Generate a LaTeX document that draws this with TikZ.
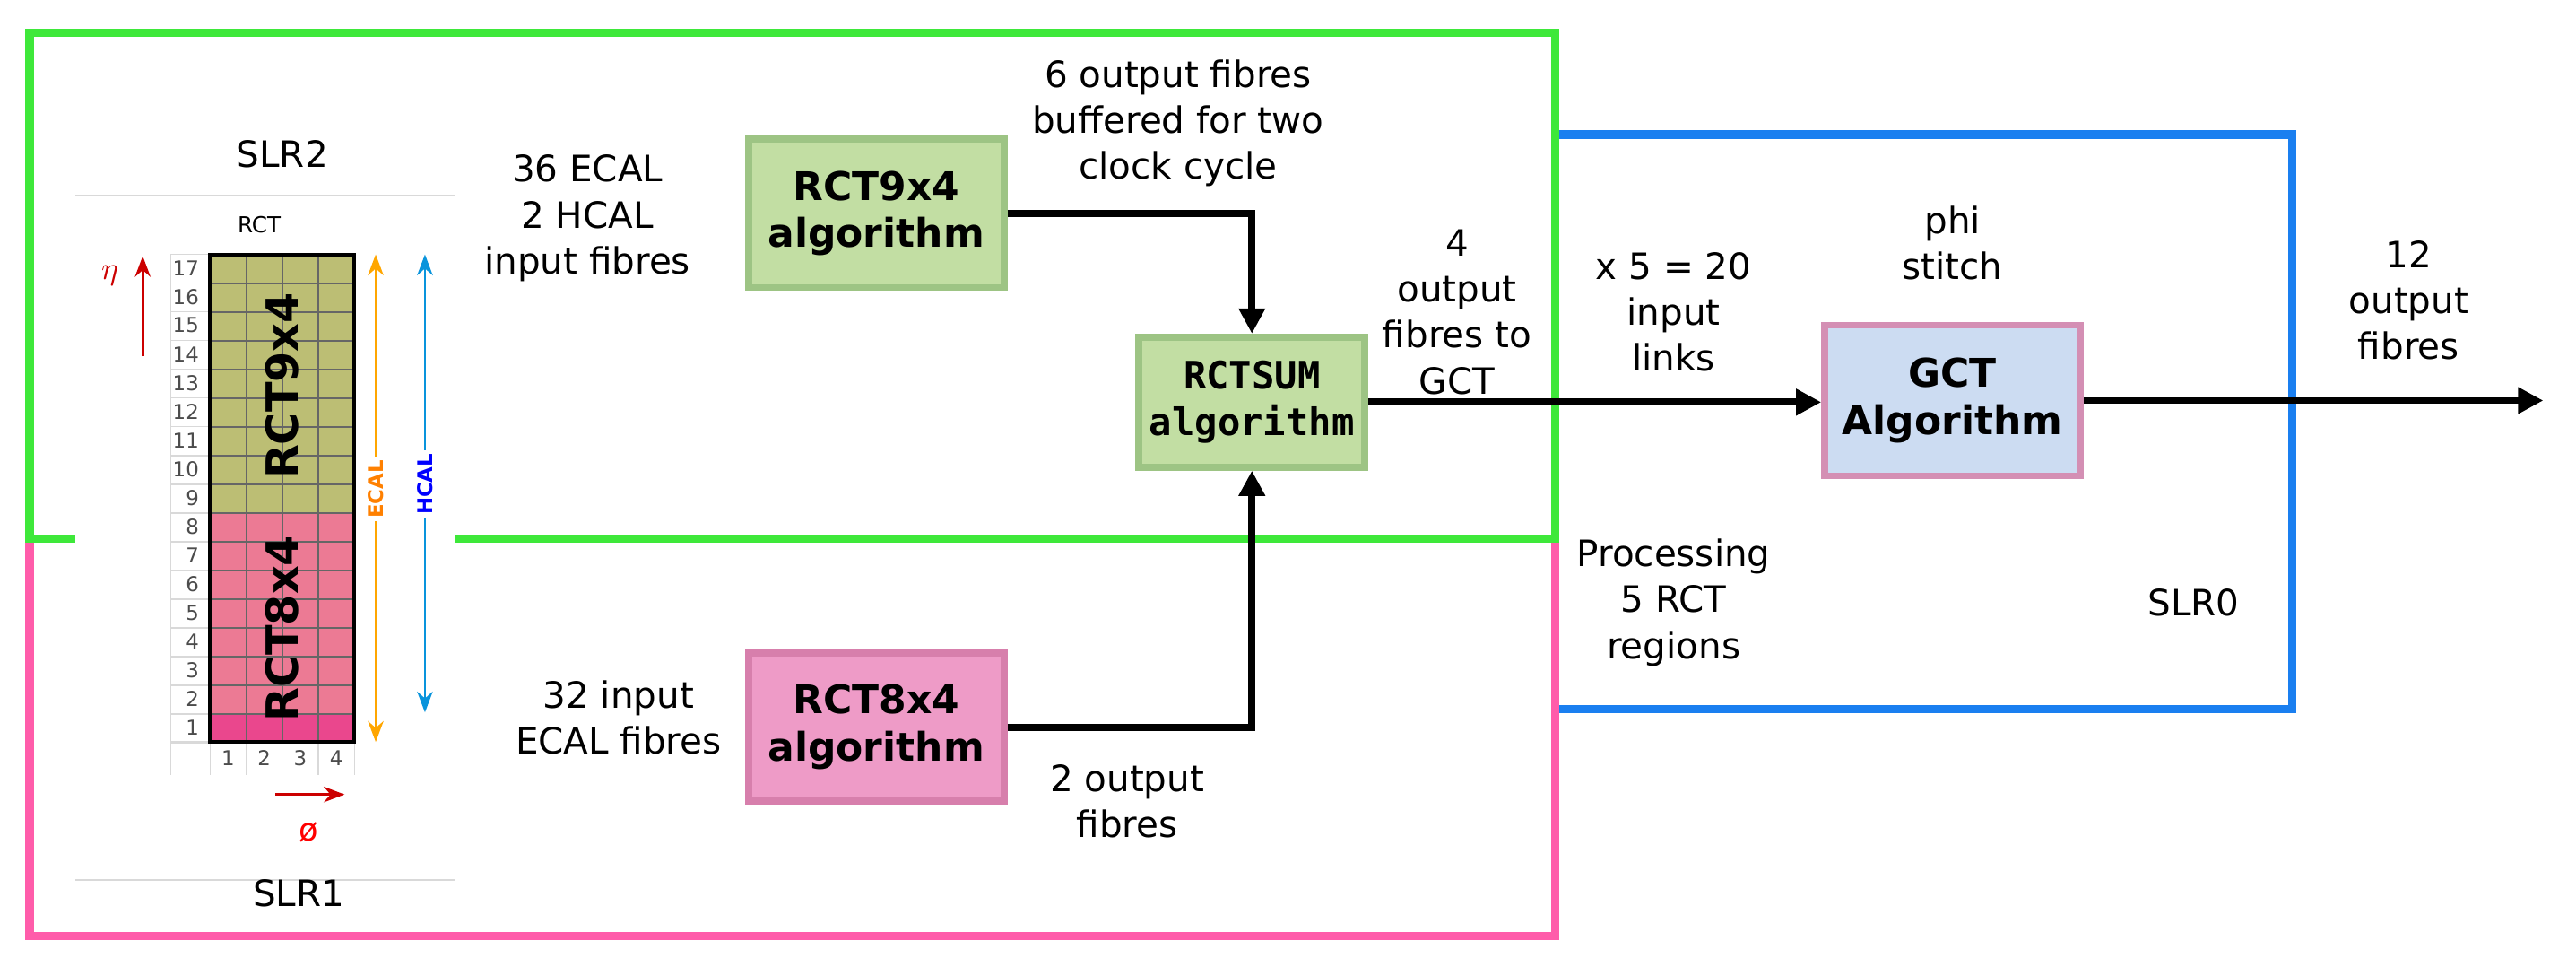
\documentclass[tikz,border=0pt]{standalone}
\usepackage{fontspec}
\setmainfont{DejaVu Sans}
\newfontfamily\monofont{DejaVu Sans Mono}
\usetikzlibrary{arrows.meta, positioning}
\definecolor{frmgreen}{HTML}{3EE83A}
\definecolor{frmpink}{HTML}{FF5CAA}
\definecolor{frmblue}{HTML}{1A7FF0}
\definecolor{algreen}{HTML}{C2DEA3}
\definecolor{algreenb}{HTML}{9DC484}
\definecolor{alpink}{HTML}{EE9BC7}
\definecolor{alpinkb}{HTML}{D77FAC}
\definecolor{gctblue}{HTML}{CCDCF2}
\definecolor{gctb}{HTML}{D48FB4}
\definecolor{cellgreen}{HTML}{BCBE74}
\definecolor{cellpink}{HTML}{EC7A94}

\begin{document}
\begin{tikzpicture}[x=0.0183cm, y=-0.0183cm,
  alg/.style={draw, line width=2.2pt, align=center, font=\fontsize{12.5}{15}\selectfont\bfseries},
  lbl/.style={align=center, font=\fontsize{11.5}{14.6}\selectfont},
  arr/.style={-{Triangle[length=8pt,width=8pt]}, line width=2.2pt},
  frame/.style={line width=2.6pt}]
  \useasboundingbox (0,0) rectangle (1570,589);

  % outer frames
  \draw[frame, frmblue] (948,82) rectangle (1397,432);
  \draw[frame, frmpink] (18,328) rectangle (948,570);
  \draw[frame, frmgreen] (18,20) rectangle (948,328);

  % RCT inset picture
  \fill[white] (46,119) rectangle (277,536);
  \draw[gray!30] (46,119) -- (277,119);
  \draw[gray!30] (46,536) -- (277,536);
  \node[lbl] (slrtwo) at (172,94) {SLR2};
  \node[lbl] (slrone) at (182,544) {SLR1};
  \node[font=\scriptsize] (rct) at (158,137) {RCT};
  \fill[cellgreen] (128,155) rectangle (216,312.5);
  \fill[cellpink] (128,312.5) rectangle (216,452);
  \fill[magenta!50!cellpink] (128,434.5) rectangle (216,452);
  \foreach \r in {0,...,17} {
    \draw[black!60, line width=0.5pt] (128,{155+17.5*\r}) -- (216,{155+17.5*\r});
    \draw[gray!30] (104,{155+17.5*\r}) -- (128,{155+17.5*\r});
  }
  \foreach \c in {0,...,4} {
    \draw[black!60, line width=0.5pt] ({128+22*\c},155) -- ({128+22*\c},452);
    \draw[gray!30] ({128+22*\c},452) -- ({128+22*\c},472);
  }
  \draw[gray!30] (104,155) -- (104,472);
  \draw[gray!30] (104,452) -- (128,452);
  \draw[line width=1.2pt] (128,155) rectangle (216,452);
  \foreach \r in {1,...,17}
    \node[font=\fontsize{6.5}{6.5}\selectfont, anchor=east, text=gray!60!black] (row\r) at (128,{460.75-17.5*\r}) {\r};
  \foreach \c in {1,...,4}
    \node[font=\fontsize{6.5}{6.5}\selectfont, text=gray!60!black] (col\c) at ({117+22*\c},462) {\c};
  \node[rotate=90, font=\fontsize{14}{14}\selectfont\bfseries] (ninefour) at (172,235) {RCT9x4};
  \node[rotate=90, font=\fontsize{14}{14}\selectfont\bfseries] (eightfour) at (172,383) {RCT8x4};
  \draw[{Stealth}-{Stealth}, orange!70!yellow, line width=0.8pt] (229,155) -- (229,452);
  \node[rotate=90, fill=white, inner sep=1pt, text=orange, font=\fontsize{6.5}{6.5}\selectfont\bfseries] (ecal) at (229,298) {ECAL};
  \draw[{Stealth}-{Stealth}, cyan!80!blue, line width=0.8pt] (259,155) -- (259,434);
  \node[rotate=90, fill=white, inner sep=1pt, text=blue, font=\fontsize{6.5}{6.5}\selectfont\bfseries] (hcal) at (259,295) {HCAL};
  \draw[-Stealth, red!80!black, line width=0.8pt] (87,217) -- (87,156);
  \node[text=red!80!black] (eta) at (67,168) {$\eta$};
  \draw[-Stealth, red!80!black, line width=0.8pt] (168,484) -- (210,484);
  \node[text=red] (phi) at (188,507) {ø};

  % algorithm blocks
  \node[alg, fill=algreen, draw=algreenb, minimum width=2.85cm, minimum height=1.65cm] (nine) at (534,130) {RCT9x4\\algorithm};
  \node[alg, fill=alpink, draw=alpinkb, minimum width=2.85cm, minimum height=1.65cm] (eight) at (534,443) {RCT8x4\\algorithm};
  \node[alg, fill=algreen, draw=algreenb, minimum width=2.43cm, minimum height=1.45cm, font=\fontsize{12}{15}\selectfont\monofont\bfseries] (sum) at (763,245) {RCTSUM\\algorithm};
  \node[alg, fill=gctblue, draw=gctb, minimum width=2.85cm, minimum height=1.68cm] (gct) at (1190,244) {GCT\\Algorithm};
  \coordinate (out) at (1550,244);

  % connections
  \draw[arr] (nine.east) -| (sum.north);
  \draw[arr] (eight.east) -| (sum.south);
  \draw[arr] (sum.east) -- (gct.west |- sum.east);
  \draw[arr] (gct.east) -- (out);

  % labels
  \node[lbl] (ecalin) at (358,133) {36 ECAL\\2 HCAL\\input fibres};
  \node[lbl] (buf) at (718,75) {6 output fibres\\buffered for two\\clock cycle};
  \node[lbl] (four) at (888,190) {4\\output\\fibres to\\GCT};
  \node[lbl] (links) at (1020,190) {x 5 = 20\\input\\links};
  \node[lbl] (stitch) at (1190,148) {phi\\stitch};
  \node[lbl] (twelve) at (1468,183) {12\\output\\fibres};
  \node[lbl] (proc) at (1020,367) {Processing\\5 RCT\\regions};
  \node[lbl] (slrzero) at (1337,367) {SLR0};
  \node[lbl] (ecalfb) at (377,437) {32 input\\ECAL fibres};
  \node[lbl] (twoout) at (687,488) {2 output\\fibres};
\end{tikzpicture}
\end{document}
